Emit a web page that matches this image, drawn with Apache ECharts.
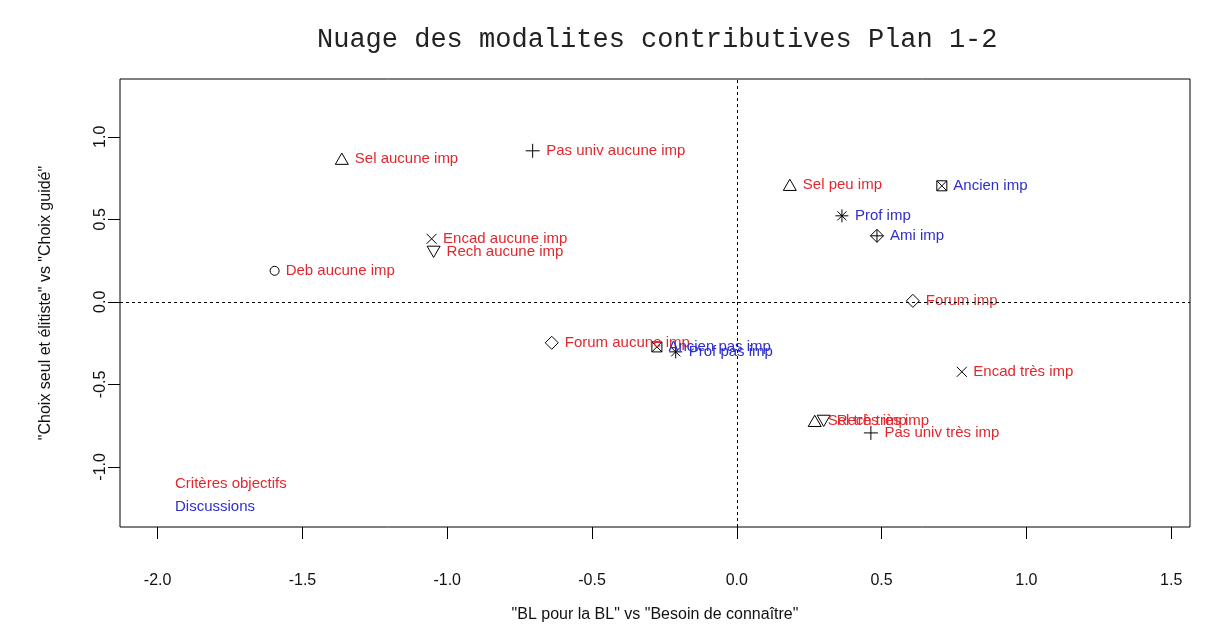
<!DOCTYPE html>
<html style="height:100%;width:100%;">

<head>
  <meta charset="utf-8">
  <title>Nuage des modalites contributives</title>
  <script src="https://cdn.jsdelivr.net/npm/echarts@6/dist/echarts.min.js"></script>
</head>

<body style="margin:0px;height:100%;width:100%;background:#fff;">
  <div id="main" style="width:1207px;height:637px"></div>
  <script type="text/javascript" charset="utf-8">
    // modalites "Criteres objectifs" (rouge)
    var critNames = ['Sel aucune imp', 'Pas univ aucune imp', 'Encad aucune imp', 'Rech aucune imp',
      'Deb aucune imp', 'Sel peu imp', 'Forum imp', 'Forum aucune imp', 'Encad très imp',
      'Sel très imp', 'Rech très imp', 'Pas univ très imp'];
    var critX = [-1.364, -0.705, -1.054, -1.047, -1.596, 0.183, 0.608, -0.639, 0.777, 0.269, 0.300, 0.463];
    var critY = [0.867, 0.915, 0.382, 0.303, 0.188, 0.709, 0.006, -0.248, -0.424, -0.721, -0.721, -0.794];
    var critPch = ['tri', 'plus', 'cross', 'triDown', 'circle', 'tri', 'diamond', 'diamond', 'cross',
      'tri', 'triDown', 'plus'];

    // modalites "Discussions" (bleu)
    var discNames = ['Ancien imp', 'Prof imp', 'Ami imp', 'Ancien pas imp', 'Prof pas imp'];
    var discX = [0.708, 0.363, 0.484, -0.276, -0.211];
    var discY = [0.703, 0.521, 0.400, -0.273, -0.303];
    var discPch = ['boxCross', 'star', 'diamondPlus', 'boxCross', 'star'];

    var tickX = [-2.0, -1.5, -1.0, -0.5, 0.0, 0.5, 1.0, 1.5];
    var tickY = [-1.0, -0.5, 0.0, 0.5, 1.0];

    var red = '#e0282f';
    var blue = '#2e2ecc';

    // symboles type R (pch)
    var symbols = {
      tri: ['path://M0,-1L0.866,0.5L-0.866,0.5Z', 13],
      triDown: ['path://M0,1L0.866,-0.5L-0.866,-0.5Z', 13],
      plus: ['path://M0,-1L0,1M-1,0L1,0', 14],
      cross: ['path://M-1,-1L1,1M-1,1L1,-1', 10],
      circle: ['circle', 9],
      diamond: ['path://M0,-1L1,0L0,1L-1,0Z', 13],
      diamondPlus: ['path://M0,-1L1,0L0,1L-1,0ZM0,-1L0,1M-1,0L1,0', 13],
      star: ['path://M0,-1L0,1M-1,0L1,0M-0.7,-0.7L0.7,0.7M-0.7,0.7L0.7,-0.7', 13],
      boxCross: ['path://M-1,-1L1,-1L1,1L-1,1ZM-1,-1L1,1M-1,1L1,-1', 10]
    };

    function buildData(names, xs, ys, pchs) {
      return names.map(function (n, i) {
        var s = symbols[pchs[i]];
        return {
          name: n,
          value: [xs[i], ys[i]],
          symbol: s[0],
          symbolSize: s[1]
        };
      });
    }

    function pointSeries(name, data, color) {
      return {
        name: name,
        type: 'scatter',
        data: data,
        symbolKeepAspect: true,
        itemStyle: {
          color: 'rgba(0,0,0,0)',
          borderColor: '#000',
          borderWidth: 1,
          opacity: 1
        },
        label: {
          show: true,
          position: 'right',
          distance: 6,
          formatter: '{b}',
          color: color,
          fontSize: 15,
          fontFamily: 'Liberation Sans'
        },
        emphasis: { disabled: true },
        z: 3
      };
    }

    var myChart = echarts.init(document.getElementById('main'));

    var option = {
      backgroundColor: '#fff',
      animation: false,
      title: {
        text: 'Nuage des modalites contributives Plan 1-2',
        left: 312,
        top: 21,
        textStyle: {
          fontFamily: 'Liberation Mono',
          fontWeight: 'normal',
          fontSize: 27,
          color: '#222'
        }
      },
      legend: {
        orient: 'vertical',
        left: 164,
        top: 471,
        itemWidth: 0,
        itemHeight: 0,
        itemGap: 8,
        selectedMode: false,
        data: [
          { name: 'Critères objectifs', textStyle: { color: red } },
          { name: 'Discussions', textStyle: { color: blue } }
        ],
        textStyle: { fontSize: 15, fontFamily: 'Liberation Sans' }
      },
      grid: {
        left: 120,
        right: 17,
        top: 79,
        bottom: 110,
        show: true,
        borderColor: '#000',
        borderWidth: 1
      },
      xAxis: {
        type: 'value',
        min: -2.13,
        max: 1.565,
        name: '"BL pour la BL" vs "Besoin de connaître"',
        nameLocation: 'middle',
        nameGap: 80,
        nameTextStyle: { fontSize: 16, fontFamily: 'Liberation Sans', color: '#111' },
        axisLine: { show: false, onZero: false },
        axisTick: {
          show: true,
          length: 12,
          customValues: tickX,
          lineStyle: { color: '#000' }
        },
        axisLabel: {
          customValues: tickX,
          margin: 46,
          fontSize: 16,
          fontFamily: 'Liberation Sans',
          color: '#111',
          formatter: function (v) { return v.toFixed(1); }
        },
        splitLine: { show: false }
      },
      yAxis: {
        type: 'value',
        min: -1.364,
        max: 1.35,
        name: '"Choix seul et élitiste" vs "Choix guidé"',
        nameLocation: 'middle',
        nameGap: 66,
        nameTextStyle: { fontSize: 16, fontFamily: 'Liberation Sans', color: '#111' },
        axisLine: { show: false, onZero: false },
        axisTick: {
          show: true,
          length: 12,
          customValues: tickY,
          lineStyle: { color: '#000' }
        },
        axisLabel: {
          customValues: tickY,
          rotate: 90,
          margin: 11,
          fontSize: 16,
          fontFamily: 'Liberation Sans',
          color: '#111',
          formatter: function (v) { return v.toFixed(1); }
        },
        splitLine: { show: false }
      },
      series: [
        pointSeries('Critères objectifs', buildData(critNames, critX, critY, critPch), red),
        pointSeries('Discussions', buildData(discNames, discX, discY, discPch), blue),
        {
          // axes pointilles en 0
          type: 'scatter',
          data: [],
          silent: true,
          markLine: {
            silent: true,
            symbol: 'none',
            label: { show: false },
            lineStyle: { color: '#000', width: 1, type: [3, 3] },
            data: [{ xAxis: 0 }, { yAxis: 0 }]
          }
        }
      ]
    };

    myChart.setOption(option, true);
  </script>
</body>

</html>
